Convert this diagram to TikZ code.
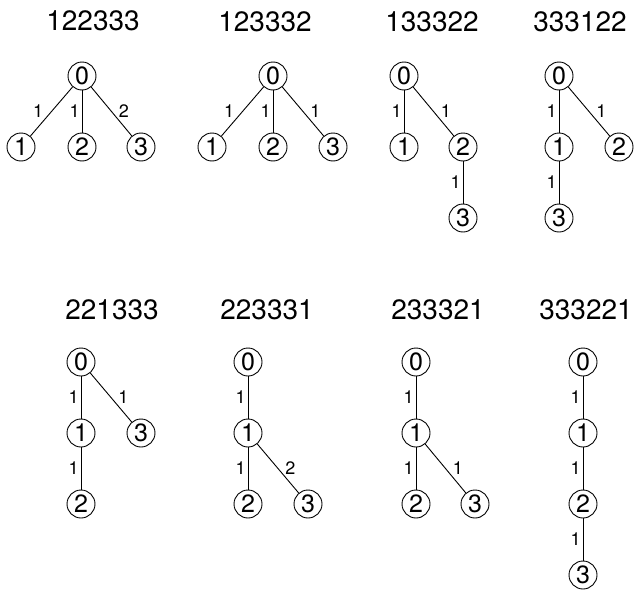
\documentclass[tikz,border=0pt]{standalone}
\usepackage{fontspec}
\setmainfont{TeX Gyre Heros}

\begin{document}
\begin{tikzpicture}[x=1pt, y=-1pt,
  title/.style={font=\fontsize{28}{28}\selectfont},
  vert/.style={draw, circle, minimum size=28pt, inner sep=0pt, line width=0.9pt, font=\fontsize{25}{25}\selectfont},
  edge/.style={line width=0.9pt},
  wt/.style={font=\fontsize{18}{18}\selectfont, inner sep=2pt}
]
  \useasboundingbox (0,0) rectangle (637,589);

  % top row
  \node[title] (ta) at (93,21) {122333};
  \node[vert] (a0) at (82,76) {0};
  \node[vert] (a1) at (21,147) {1};
  \node[vert] (a2) at (82,147) {2};
  \node[vert] (a3) at (141,147) {3};
  \draw[edge] (a0) -- node[wt, left=6pt] {1} (a1);
  \draw[edge] (a0) -- node[wt, left] {1} (a2);
  \draw[edge] (a0) -- node[wt, right=5pt] {2} (a3);

  \node[title] (tb) at (265,22) {123332};
  \node[vert] (b0) at (273,76) {0};
  \node[vert] (b1) at (212,147) {1};
  \node[vert] (b2) at (273,147) {2};
  \node[vert] (b3) at (333,147) {3};
  \draw[edge] (b0) -- node[wt, left=6pt] {1} (b1);
  \draw[edge] (b0) -- node[wt, left] {1} (b2);
  \draw[edge] (b0) -- node[wt, right=5pt] {1} (b3);

  \node[title] (tc) at (432,22) {133322};
  \node[vert] (c0) at (404,76) {0};
  \node[vert] (c1) at (404,147) {1};
  \node[vert] (c2) at (463,147) {2};
  \node[vert] (c3) at (463,218) {3};
  \draw[edge] (c0) -- node[wt, left] {1} (c1);
  \draw[edge] (c0) -- node[wt, right=5pt] {1} (c2);
  \draw[edge] (c2) -- node[wt, left] {1} (c3);

  \node[title] (td) at (580,22) {333122};
  \node[vert] (d0) at (559,76) {0};
  \node[vert] (d1) at (559,147) {1};
  \node[vert] (d2) at (619,147) {2};
  \node[vert] (d3) at (559,218) {3};
  \draw[edge] (d0) -- node[wt, left] {1} (d1);
  \draw[edge] (d0) -- node[wt, right=5pt] {1} (d2);
  \draw[edge] (d1) -- node[wt, left] {1} (d3);

  % bottom row
  \node[title] (te) at (112,310) {221333};
  \node[vert] (e0) at (81,362) {0};
  \node[vert] (e1) at (81,433) {1};
  \node[vert] (e2) at (81,504) {2};
  \node[vert] (e3) at (141,433) {3};
  \draw[edge] (e0) -- node[wt, left] {1} (e1);
  \draw[edge] (e0) -- node[wt, right=5pt] {1} (e3);
  \draw[edge] (e1) -- node[wt, left] {1} (e2);

  \node[title] (tf) at (267,310) {223331};
  \node[vert] (f0) at (248,362) {0};
  \node[vert] (f1) at (248,433) {1};
  \node[vert] (f2) at (248,504) {2};
  \node[vert] (f3) at (308,504) {3};
  \draw[edge] (f0) -- node[wt, left] {1} (f1);
  \draw[edge] (f1) -- node[wt, left] {1} (f2);
  \draw[edge] (f1) -- node[wt, right=5pt] {2} (f3);

  \node[title] (tg) at (438,310) {233321};
  \node[vert] (g0) at (416,362) {0};
  \node[vert] (g1) at (416,433) {1};
  \node[vert] (g2) at (416,504) {2};
  \node[vert] (g3) at (475,504) {3};
  \draw[edge] (g0) -- node[wt, left] {1} (g1);
  \draw[edge] (g1) -- node[wt, left] {1} (g2);
  \draw[edge] (g1) -- node[wt, right=5pt] {1} (g3);

  \node[title] (th) at (586,310) {333221};
  \node[vert] (h0) at (583,362) {0};
  \node[vert] (h1) at (583,433) {1};
  \node[vert] (h2) at (583,504) {2};
  \node[vert] (h3) at (583,575) {3};
  \draw[edge] (h0) -- node[wt, left] {1} (h1);
  \draw[edge] (h1) -- node[wt, left] {1} (h2);
  \draw[edge] (h2) -- node[wt, left] {1} (h3);
\end{tikzpicture}
\end{document}
